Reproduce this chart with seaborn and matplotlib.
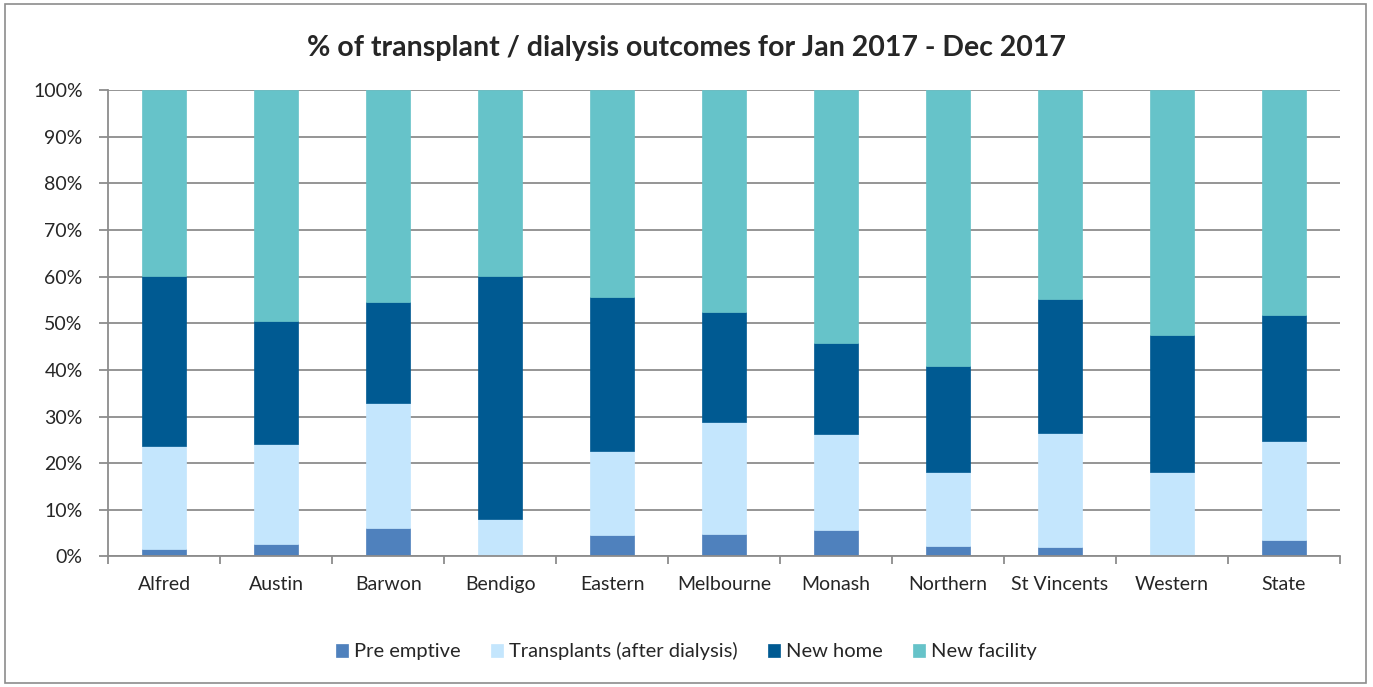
import numpy as np
import pandas as pd
import matplotlib
matplotlib.use("Agg")
import matplotlib.pyplot as plt
from matplotlib.patches import Rectangle
from matplotlib.ticker import PercentFormatter, FixedLocator
import seaborn as sns

# values in percent
units = ['Alfred', 'Austin', 'Barwon', 'Bendigo', 'Eastern', 'Melbourne',
         'Monash', 'Northern', 'St Vincents', 'Western', 'State']
pre_emptive = [1.6, 2.6, 6.2, 0.0, 4.5, 4.9, 5.7, 2.3, 2.1, 0.0, 3.6]
transplants = [22.1, 21.5, 26.6, 8.0, 18.2, 23.9, 20.6, 15.9, 24.4, 18.1, 21.2]
new_home = [36.5, 26.4, 21.8, 52.1, 33.0, 23.7, 19.5, 22.7, 28.8, 29.4, 26.9]
new_facility = [39.8, 49.5, 45.4, 39.9, 44.3, 47.5, 54.2, 59.1, 44.7, 52.5, 48.3]

series_names = ['Pre emptive', 'Transplants (after dialysis)', 'New home', 'New facility']
series_colors = ['#4F81BD', '#C4E6FD', '#005A92', '#66C3C9']

df = pd.DataFrame({
    'unit': units,
    series_names[0]: pre_emptive,
    series_names[1]: transplants,
    series_names[2]: new_home,
    series_names[3]: new_facility,
})

sns.set_style('white')
plt.rcParams['font.family'] = ['Lato', 'DejaVu Sans']

fig = plt.figure(figsize=(13.73, 6.87), dpi=100)
ax = fig.add_axes([0.0789, 0.190, 0.897, 0.679])

bottom = np.zeros(len(units))
for name, color in zip(series_names, series_colors):
    sns.barplot(data=df, x='unit', y=name, color=color, width=0.395,
                bottom=bottom, ax=ax, label=name, saturation=1,
                edgecolor=color, linewidth=0.5)
    bottom = bottom + df[name].values

ax.set_ylim(0, 100)
ax.set_xlim(-0.5, len(units) - 0.5)
ax.set_yticks(np.arange(0, 101, 10))
ax.yaxis.set_major_formatter(PercentFormatter(decimals=0))
ax.yaxis.grid(True, color='#8C8C8C', linewidth=1.3)
ax.set_axisbelow(True)
ax.set_xlabel('')
ax.set_ylabel('')

ax.xaxis.set_minor_locator(FixedLocator(np.arange(-0.5, len(units), 1)))
ax.tick_params(axis='x', which='major', length=0, pad=14, labelsize=14)
ax.tick_params(axis='x', which='minor', length=6, color='#8C8C8C', width=1.3, direction='out', bottom=True)
ax.tick_params(axis='y', which='major', length=6.5, color='#8C8C8C', width=1.3, direction='out', left=True, labelsize=14, pad=12)

for side in ['top', 'right']:
    ax.spines[side].set_visible(False)
for side in ['left', 'bottom']:
    ax.spines[side].set_color('#8C8C8C')
    ax.spines[side].set_linewidth(1.3)

fig.text(0.5, 0.930, '% of transplant / dialysis outcomes for Jan 2017 - Dec 2017',
         ha='center', va='center', fontsize=20.5, fontweight='bold')

handles, labels = ax.get_legend_handles_labels()
ax.legend(handles, labels, loc='center', bbox_to_anchor=(0.5, 0.052),
          bbox_transform=fig.transFigure, ncol=4, frameon=False,
          fontsize=14.5, handlelength=0.6, handleheight=0.6,
          handletextpad=0.3, columnspacing=1.5)

fig.patches.append(Rectangle((0.004, 0.006), 0.991, 0.988, transform=fig.transFigure,
                             fill=False, edgecolor='#8C8C8C', linewidth=1.2))

fig.savefig('out.png', dpi=100, facecolor='white')
